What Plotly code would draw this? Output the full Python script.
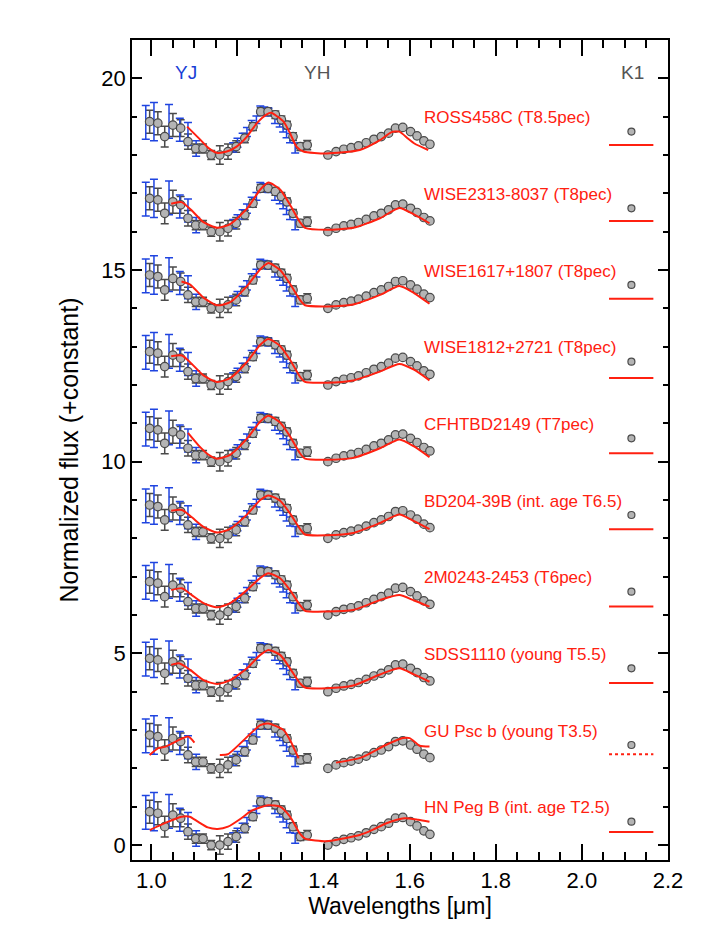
import plotly.graph_objects as go

# ---------------- data (offset-0 values) ----------------
obs_wl = [0.996, 1.015, 1.031, 1.050, 1.068, 1.085, 1.103, 1.120, 1.139, 1.159, 1.178,
          1.197, 1.217, 1.236, 1.254, 1.271, 1.288, 1.302, 1.315, 1.329, 1.346, 1.362,
          1.410, 1.429, 1.447, 1.464, 1.481, 1.499, 1.517, 1.534, 1.551, 1.567, 1.584,
          1.602, 1.617, 1.633, 1.647]
obs_flux = [0.87, 0.83, 0.48, 0.78, 0.70, 0.35, 0.17, 0.17, 0.00, 0.00, 0.09,
            0.22, 0.44, 0.74, 1.13, 1.13, 1.05, 0.92, 0.78, 0.48, 0.22, 0.26,
            0.00, 0.09, 0.15, 0.19, 0.24, 0.32, 0.41, 0.48, 0.57, 0.70, 0.72,
            0.61, 0.50, 0.37, 0.28]
obs_err = [0.30, 0.30, 0.27, 0.30, 0.22, 0.20, 0.12, 0.12, 0.12, 0.24, 0.20,
           0.15, 0.12, 0.10, 0.10, 0.10, 0.10, 0.10, 0.10, 0.10, 0.10, 0.12,
           0.04, 0.04, 0.04, 0.04, 0.04, 0.04, 0.04, 0.04, 0.04, 0.04, 0.04,
           0.04, 0.04, 0.04, 0.04]

blue_wl = [0.987, 1.006, 1.041, 1.066, 1.085, 1.104,
           1.190, 1.200, 1.212, 1.222, 1.233, 1.244, 1.253, 1.262, 1.272, 1.287,
           1.298, 1.306, 1.314, 1.322, 1.334]
blue_flux = [0.85, 0.87, 0.88, 0.66, 0.55, 0.17,
             0.20, 0.32, 0.45, 0.60, 0.78, 0.92, 1.18, 1.15, 1.12, 0.92,
             0.83, 0.70, 0.57, 0.44, 0.18]
blue_err = [0.44, 0.50, 0.44, 0.30, 0.30, 0.20,
            0.12, 0.12, 0.12, 0.12, 0.12, 0.10, 0.10, 0.10, 0.10, 0.10,
            0.10, 0.10, 0.12, 0.12, 0.13]

k1_wl = [2.115]
k1_flux = [0.61]

labels = ["HN Peg B (int. age T2.5)", "GU Psc b (young T3.5)", "SDSS1110 (young T5.5)",
          "2M0243-2453 (T6pec)", "BD204-39B (int. age T6.5)", "CFHTBD2149 (T7pec)",
          "WISE1812+2721 (T8pec)", "WISE1617+1807 (T8pec)", "WISE2313-8037 (T8pec)",
          "ROSS458C (T8.5pec)"]
offsets = [0, 2, 4, 6, 8, 10, 12, 14, 16, 18]

# comparison spectra (relative to each offset)
hn_wl = [0.996, 1.031, 1.07, 1.089, 1.108, 1.131, 1.154, 1.178, 1.209, 1.229, 1.247, 1.272,
         1.299, 1.322, 1.345, 1.357, 1.407, 1.445, 1.484, 1.515, 1.546, 1.588, 1.62, 1.646]
hn_fl = [0.39, 0.57, 0.74, 0.74, 0.61, 0.46, 0.42, 0.48, 0.70, 0.87, 0.96, 1.04,
         1.00, 0.74, 0.30, 0.17, 0.10, 0.17, 0.26, 0.40, 0.57, 0.70, 0.66, 0.61]
gu_wl = [0.996, 1.016, 1.031, 1.085, 1.100, None,
         1.159, 1.178, 1.253, 1.272, 1.307, 1.322, 1.342, None,
         1.429, 1.487, 1.541, 1.584, 1.600, 1.623, 1.646]
gu_fl = [0.35, 0.53, 0.56, 0.83, 0.67, None,
         0.35, 0.37, 1.13, 1.17, 1.00, 0.74, 0.26, None,
         0.15, 0.28, 0.59, 0.79, 0.79, 0.59, 0.57]
sd_wl = [1.046, 1.064, 1.09, 1.121, 1.153, 1.183, 1.222, 1.253, 1.272, 1.299, 1.322, 1.345,
         1.357, 1.407, 1.469, 1.531, 1.576, 1.61, 1.646]
sd_fl = [0.70, 0.74, 0.57, 0.30, 0.20, 0.30, 0.61, 0.96, 1.09, 0.96, 0.61, 0.22,
         0.11, 0.09, 0.16, 0.45, 0.61, 0.45, 0.26]
m2_wl = [1.046, 1.071, 1.094, 1.121, 1.153, 1.183, 1.222, 1.253, 1.272, 1.299, 1.322, 1.345,
         1.357, 1.407, 1.469, 1.531, 1.576, 1.61, 1.646]
m2_fl = [0.65, 0.70, 0.52, 0.31, 0.20, 0.31, 0.65, 0.97, 1.09, 0.96, 0.65, 0.26,
         0.11, 0.09, 0.13, 0.39, 0.52, 0.38, 0.22]
bd_wl = [1.046, 1.071, 1.094, 1.121, 1.153, 1.183, 1.222, 1.253, 1.272, 1.299, 1.322, 1.345,
         1.357, 1.407, 1.469, 1.531, 1.576, 1.61, 1.646]
bd_fl = [0.72, 0.74, 0.55, 0.30, 0.15, 0.25, 0.62, 1.00, 1.12, 0.98, 0.65, 0.25,
         0.10, 0.08, 0.14, 0.40, 0.62, 0.45, 0.24]
cf_wl = [1.085, 1.11, 1.133, 1.153, 1.183, 1.222, 1.253, 1.272, 1.299, 1.322, 1.345,
         1.357, 1.407, 1.469, 1.531, 1.576, 1.61, 1.646]
cf_fl = [0.75, 0.42, 0.18, 0.08, 0.18, 0.60, 1.05, 1.20, 1.02, 0.66, 0.22,
         0.08, 0.05, 0.10, 0.35, 0.58, 0.40, 0.12]
w18_wl = [1.046, 1.071, 1.094, 1.121, 1.153, 1.183, 1.222, 1.253, 1.272, 1.299, 1.322, 1.345,
          1.357, 1.407, 1.469, 1.531, 1.576, 1.61, 1.646]
w18_fl = [0.75, 0.77, 0.55, 0.25, 0.08, 0.18, 0.60, 1.05, 1.20, 1.02, 0.66, 0.22,
          0.08, 0.06, 0.12, 0.35, 0.55, 0.40, 0.12]
w16_wl = [1.07, 1.09, 1.121, 1.153, 1.183, 1.222, 1.253, 1.272, 1.299, 1.322, 1.345,
          1.357, 1.407, 1.469, 1.531, 1.576, 1.61, 1.646]
w16_fl = [0.70, 0.62, 0.28, 0.08, 0.16, 0.58, 1.02, 1.18, 1.00, 0.64, 0.22,
          0.08, 0.05, 0.10, 0.35, 0.58, 0.40, 0.12]
w23_wl = [1.046, 1.07, 1.094, 1.121, 1.153, 1.183, 1.222, 1.253, 1.272, 1.299, 1.322, 1.345,
          1.357, 1.407, 1.469, 1.531, 1.576, 1.61, 1.646]
w23_fl = [0.73, 0.77, 0.55, 0.25, 0.10, 0.20, 0.60, 1.10, 1.28, 1.10, 0.70, 0.25,
          0.10, 0.05, 0.10, 0.35, 0.62, 0.45, 0.22]
ro_wl = [1.083, 1.11, 1.133, 1.152, 1.175, 1.198, 1.222, 1.245, 1.268, 1.278, 1.307, 1.322,
         1.337, 1.353, 1.407, 1.484, 1.53, 1.557, 1.576, 1.596, 1.611, 1.643]
ro_fl = [0.74, 0.44, 0.18, 0.06, 0.09, 0.22, 0.48, 0.83, 1.06, 1.10, 0.87, 0.57,
         0.22, 0.09, 0.04, 0.13, 0.38, 0.59, 0.61, 0.43, 0.30, 0.13]

model_wl = [hn_wl, gu_wl, sd_wl, m2_wl, bd_wl, cf_wl, w18_wl, w16_wl, w23_wl, ro_wl]
model_fl = [hn_fl, gu_fl, sd_fl, m2_fl, bd_fl, cf_fl, w18_fl, w16_fl, w23_fl, ro_fl]
model_k = [0.34, 0.37, 0.23, 0.22, 0.24, 0.22, 0.18, 0.25, 0.28, 0.26]
k_band = [2.063, 2.166]
dotted_k = [False, True, False, False, False, False, False, False, False, False]

band_names = ["YJ", "YH", "K1"]
band_x = [1.08, 1.385, 2.117]
band_colors = ["#1a3fd6", "#555555", "#555555"]

RED = "#ff2010"
GRAY_LINE = "#4a4a4a"
BLUE = "#1f44e0"
FONT = "Liberation Sans, Arial, Helvetica, sans-serif"
X_RANGE = [0.955, 2.2]
Y_RANGE = [-0.39, 21.0]
TW = 2
TC = "#000000"

fig = go.Figure()

for i, off in enumerate(offsets):
    fig.add_trace(go.Scatter(
        x=obs_wl, y=[v + off for v in obs_flux], mode="markers",
        marker=dict(size=1, color="rgba(0,0,0,0)"),
        error_y=dict(type="data", array=obs_err, color=GRAY_LINE, thickness=1.5, width=4),
        showlegend=False, hoverinfo="skip"))
    fig.add_trace(go.Scatter(
        x=blue_wl, y=[v + off for v in blue_flux], mode="markers",
        marker=dict(size=1, color="rgba(0,0,0,0)"),
        error_y=dict(type="data", array=blue_err, color=BLUE, thickness=1.5, width=4),
        showlegend=False, hoverinfo="skip"))
    fig.add_trace(go.Scatter(
        x=obs_wl, y=[v + off for v in obs_flux], mode="markers",
        marker=dict(size=8.5, color="#b4b4b4", line=dict(color=GRAY_LINE, width=1.2)),
        showlegend=False, hoverinfo="skip"))
    fig.add_trace(go.Scatter(
        x=k1_wl, y=[v + off for v in k1_flux], mode="markers",
        marker=dict(size=7, color="#b4b4b4", line=dict(color=GRAY_LINE, width=1.2)),
        showlegend=False, hoverinfo="skip"))
    fig.add_trace(go.Scatter(
        x=model_wl[i], y=[None if v is None else v + off for v in model_fl[i]],
        mode="lines", line=dict(color=RED, width=2, shape="spline", smoothing=0.6),
        connectgaps=False, showlegend=False, hoverinfo="skip"))
    fig.add_trace(go.Scatter(
        x=k_band, y=[model_k[i] + off] * 2, mode="lines",
        line=dict(color=RED, width=2, dash="dot" if dotted_k[i] else "solid"),
        showlegend=False, hoverinfo="skip"))
    fig.add_annotation(x=1.628, y=off + 0.97, text=labels[i], showarrow=False,
                       xanchor="left", yanchor="middle",
                       font=dict(color=RED, size=17, family=FONT))

for name, bx, bc in zip(band_names, band_x, band_colors):
    fig.add_annotation(x=bx, y=20.15, text=name, showarrow=False,
                       xanchor="center", yanchor="middle",
                       font=dict(color=bc, size=19, family=FONT))

for xa, ya in [("x2", "y2"), ("x3", "y3")]:
    fig.add_trace(go.Scatter(x=[1.5], y=[10], xaxis=xa, yaxis=ya, mode="markers",
                             marker=dict(size=1, color="rgba(0,0,0,0)"),
                             showlegend=False, hoverinfo="skip"))

fig.update_layout(
    width=709, height=944,
    margin=dict(l=132, r=41, t=40, b=84),
    paper_bgcolor="white", plot_bgcolor="white",
    showlegend=False,
    font=dict(family=FONT, color="black"),
    xaxis=dict(range=X_RANGE, dtick=0.2, tick0=1.0, tickformat=".1f",
               ticks="inside", ticklen=16, tickcolor=TC, tickwidth=TW,
               minor=dict(dtick=0.05, ticklen=8, ticks="inside", tickcolor=TC, tickwidth=TW),
               showline=True, linecolor="black", linewidth=1.5, mirror=True,
               showgrid=False, zeroline=False,
               tickfont=dict(size=22, family=FONT),
               title=dict(text="Wavelengths [μm]", font=dict(size=23, family=FONT), standoff=6)),
    yaxis=dict(range=Y_RANGE, dtick=5, tick0=0,
               ticks="inside", ticklen=10, tickcolor=TC, tickwidth=TW,
               minor=dict(dtick=1, ticklen=5, ticks="inside", tickcolor=TC, tickwidth=TW),
               showline=True, linecolor="black", linewidth=1.5, mirror=True,
               showgrid=False, zeroline=False,
               tickfont=dict(size=22, family=FONT),
               title=dict(text="Normalized flux (+constant)", font=dict(size=25, family=FONT), standoff=16)),
    xaxis2=dict(range=X_RANGE, overlaying="x", side="top", dtick=0.05, tick0=1.0,
                ticks="inside", ticklen=8, tickcolor=TC, tickwidth=TW,
                showticklabels=False, showgrid=False, zeroline=False),
    xaxis3=dict(range=X_RANGE, overlaying="x", side="top", dtick=0.2, tick0=1.0,
                ticks="inside", ticklen=16, tickcolor=TC, tickwidth=TW,
                showticklabels=False, showgrid=False, zeroline=False),
    yaxis2=dict(range=Y_RANGE, overlaying="y", side="right", dtick=1, tick0=0,
                ticks="inside", ticklen=5, tickcolor=TC, tickwidth=TW,
                showticklabels=False, showgrid=False, zeroline=False),
    yaxis3=dict(range=Y_RANGE, overlaying="y", side="right", dtick=5, tick0=0,
                ticks="inside", ticklen=10, tickcolor=TC, tickwidth=TW,
                showticklabels=False, showgrid=False, zeroline=False),
)

fig.write_html("out.html")
